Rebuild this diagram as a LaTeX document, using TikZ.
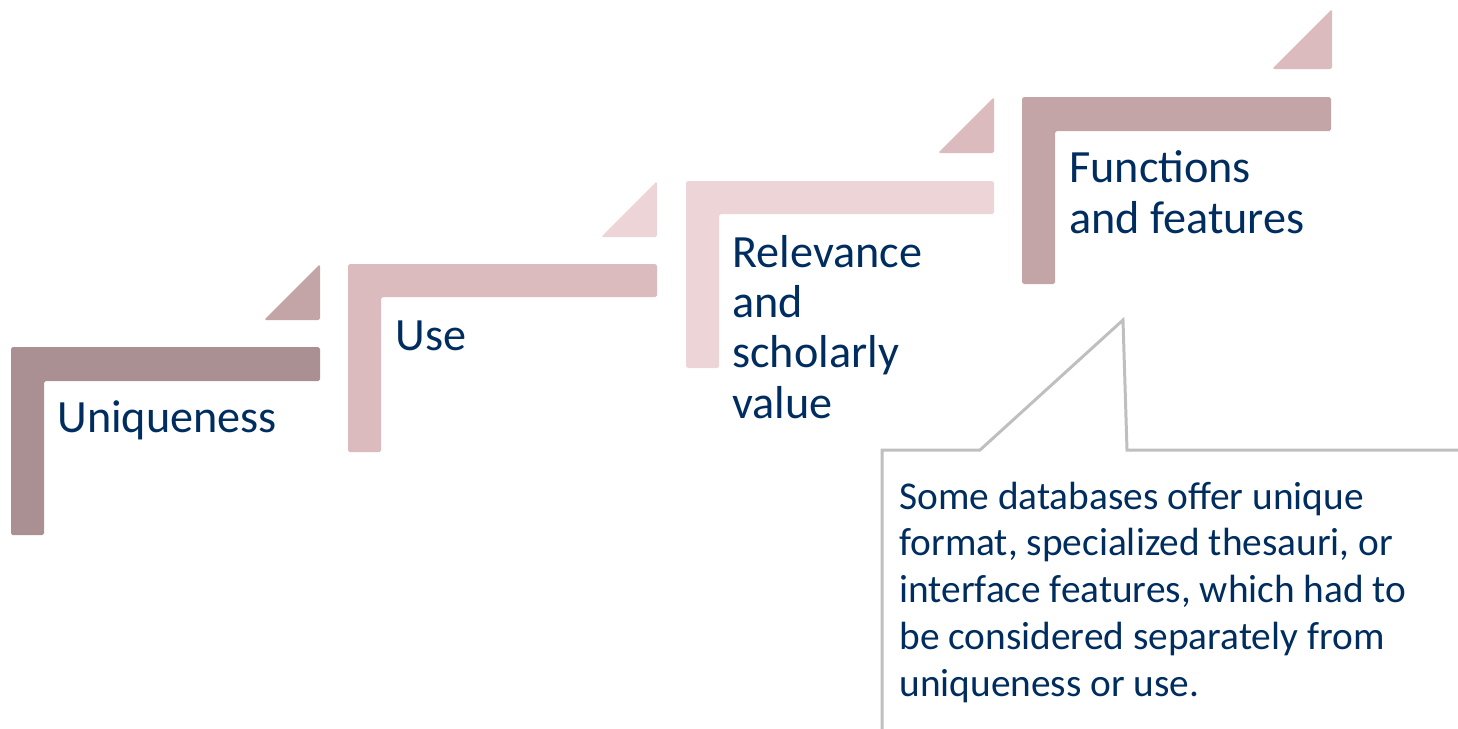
\documentclass[tikz,border=0pt]{standalone}
\usepackage{fontspec}
\setmainfont{Carlito}
\usepackage{tikz}
\definecolor{mauveA}{RGB}{170,144,146}
\definecolor{mauveB}{RGB}{196,165,167}
\definecolor{mauveC}{RGB}{219,187,189}
\definecolor{mauveD}{RGB}{237,213,215}
\definecolor{navytext}{RGB}{0,45,95}
\definecolor{notegray}{RGB}{191,191,191}

\begin{document}
\begin{tikzpicture}[x=0.02cm,y=-0.02cm,
  bar/.style={rounded corners=1pt},
  lbl/.style={anchor=base west,inner sep=0pt,text=navytext,align=left,font=\fontsize{26.3}{28.6}\selectfont},
  note/.style={anchor=base west,inner sep=0pt,text=navytext,align=left,font=\fontsize{22.4}{26.6}\selectfont}]
  \useasboundingbox (0,0) rectangle (1458,728);

  % steps
  \fill[bar,mauveA] (11,347) -- (320,347) -- (320,381) -- (44,381) -- (44,535) -- (11,535) -- cycle;
  \fill[bar,mauveB] (264,320) -- (320,264) -- (320,320) -- cycle;
  \fill[bar,mauveC] (348,264) -- (657,264) -- (657,297) -- (381,297) -- (381,452) -- (348,452) -- cycle;
  \fill[bar,mauveD] (601,237) -- (657,181) -- (657,237) -- cycle;
  \fill[bar,mauveD] (686,181) -- (994,181) -- (994,214) -- (719,214) -- (719,368) -- (686,368) -- cycle;
  \fill[bar,mauveC] (938,153) -- (994,97) -- (994,153) -- cycle;
  \fill[bar,mauveB] (1022,97) -- (1331,97) -- (1331,131) -- (1055,131) -- (1055,284) -- (1022,284) -- cycle;
  \fill[bar,mauveC] (1272,69) -- (1332,9) -- (1332,69) -- cycle;

  % labels (base = last line)
  \node[lbl] (U) at (57,432)   {Uniqueness};
  \node[lbl] (Us) at (395,350) {Use};
  \node[lbl] (R) at (732,418)  {Relevance\\and\\scholarly\\value};
  \node[lbl] (F) at (1069,233) {Functions\\and features};

  % callout
  \draw[notegray,line width=1.7pt] (882,740) -- (882,450) -- (980,450) -- (1123,320) -- (1127,450) -- (1470,450);
  \node[note] (N) at (899,696) {Some databases offer unique\\format, specialized thesauri, or\\interface features, which had to\\be considered separately from\\uniqueness or use.};
\end{tikzpicture}
\end{document}
